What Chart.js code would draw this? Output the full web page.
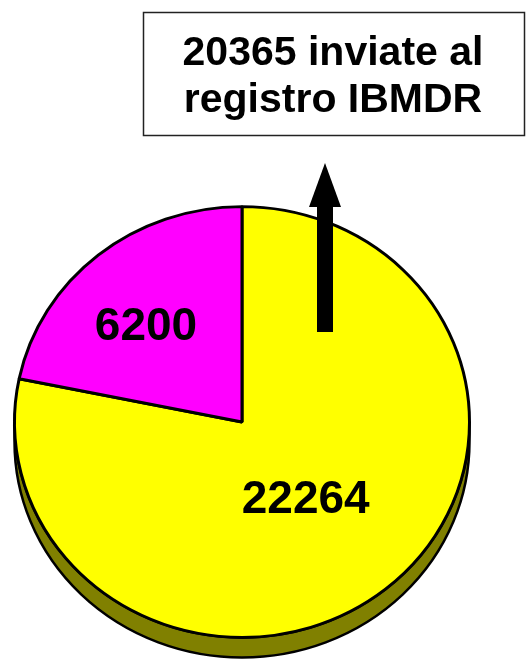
<!DOCTYPE html>
<html>
<head>
<meta charset="utf-8">
<script src="https://cdn.jsdelivr.net/npm/chart.js@4.4.0/dist/chart.umd.min.js"></script>
<style>
  html, body { margin: 0; padding: 0; background: #fff; }
  #wrap { position: relative; width: 528px; height: 660px; }
</style>
</head>
<body>
<div id="wrap"><canvas id="pie" width="528" height="660"></canvas></div>
<script>
// data
const sliceLabels = ['22264', '6200'];
const sliceValues = [22264, 6200];
const sliceColors = ['#FFFF00', '#FF00FF'];
const titleLines = ['20365 inviate al', 'registro IBMDR'];

// look
const squash = 0.947;      // vertical flattening of the disc
const depth = 20;          // thickness of the disc
const labelRadius = [0.46, 0.61];
const labelShift = [0.03, -0.08];   // small angle tweak (radians)
const font = '"Liberation Sans", Arial, sans-serif';

function arcGeom(chart) {
    const arc = chart.getDatasetMeta(0).data[0];
    return { x: arc.x, y: arc.y, r: arc.outerRadius };
}

const disc3d = {
    id: 'disc3d',
    beforeDatasetsDraw(chart) {
        const ctx = chart.ctx;
        const g = arcGeom(chart);
        const ry = g.r * squash;
        // side of the disc
        ctx.save();
        ctx.fillStyle = '#808000';
        ctx.strokeStyle = '#000';
        ctx.lineWidth = 2.5;
        ctx.beginPath();
        ctx.ellipse(g.x, g.y + depth, g.r, ry, 0, 0, Math.PI);
        ctx.lineTo(g.x - g.r, g.y);
        ctx.ellipse(g.x, g.y, g.r, ry, 0, Math.PI, 0, true);
        ctx.closePath();
        ctx.fill();
        ctx.stroke();
        ctx.restore();
        // flatten the top face
        ctx.save();
        ctx.translate(0, g.y);
        ctx.scale(1, squash);
        ctx.translate(0, -g.y);
    },
    afterDatasetsDraw(chart) {
        const ctx = chart.ctx;
        ctx.restore();
        const g = arcGeom(chart);
        const arcs = chart.getDatasetMeta(0).data;
        ctx.save();
        ctx.fillStyle = '#000';
        ctx.font = 'bold 46px ' + font;
        ctx.textAlign = 'center';
        ctx.textBaseline = 'middle';
        arcs.forEach((a, i) => {
            const mid = (a.startAngle + a.endAngle) / 2 + labelShift[i];
            const rr = g.r * labelRadius[i];
            ctx.fillText(String(sliceValues[i]), g.x + Math.cos(mid) * rr, g.y + Math.sin(mid) * rr * squash);
        });
        ctx.restore();
    },
    afterDraw(chart) {
        const ctx = chart.ctx;
        ctx.save();
        // arrow
        ctx.fillStyle = '#000';
        ctx.fillRect(317, 206, 16, 126);
        ctx.beginPath();
        ctx.moveTo(309, 207);
        ctx.lineTo(325, 163);
        ctx.lineTo(341, 207);
        ctx.closePath();
        ctx.fill();
        // box with note
        ctx.fillStyle = '#fff';
        ctx.fillRect(143, 12, 381, 123);
        ctx.strokeStyle = '#222';
        ctx.lineWidth = 1.5;
        ctx.strokeRect(143.5, 12.5, 381, 123);
        ctx.fillStyle = '#000';
        ctx.font = 'bold 41px ' + font;
        ctx.textAlign = 'center';
        ctx.textBaseline = 'alphabetic';
        ctx.fillText(titleLines[0], 333, 65);
        ctx.fillText(titleLines[1], 333, 112);
        ctx.restore();
    }
};

new Chart(document.getElementById('pie'), {
    type: 'pie',
    data: {
        labels: sliceLabels,
        datasets: [{
            data: sliceValues,
            backgroundColor: sliceColors,
            borderColor: '#000',
            borderWidth: 3,
            clip: false
        }]
    },
    options: {
        responsive: false,
        animation: false,
        layout: { padding: { left: 13, right: 57, top: 193, bottom: 9 } },
        plugins: {
            legend: { display: false },
            tooltip: { enabled: false },
            title: { display: false }
        }
    },
    plugins: [disc3d]
});
</script>
</body>
</html>
